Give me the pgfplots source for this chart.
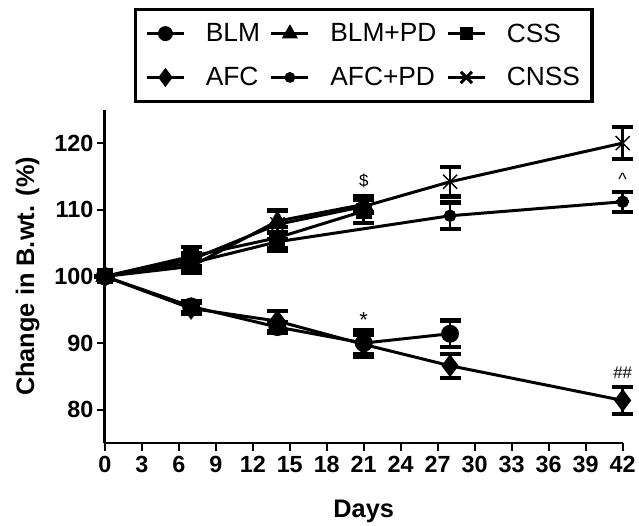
\documentclass[border=0pt]{standalone}
\usepackage{pgfplots}
\pgfplotsset{compat=1.18}
\usepackage{fontspec}
\setmainfont{Liberation Sans}

% cog-like filled marker for AFC+PD
\pgfdeclareplotmark{cog}{%
  \pgfpathcircle{\pgfpointorigin}{0.8\pgfplotmarksize}\pgfusepathqfillstroke
  \pgfsetlinewidth{2.8pt}%
  \pgfpathmoveto{\pgfpoint{-1.05\pgfplotmarksize}{0pt}}\pgfpathlineto{\pgfpoint{1.05\pgfplotmarksize}{0pt}}%
  \pgfpathmoveto{\pgfpoint{0pt}{-1.05\pgfplotmarksize}}\pgfpathlineto{\pgfpoint{0pt}{1.05\pgfplotmarksize}}%
  \pgfusepathqstroke
}

\begin{document}
\begin{tikzpicture}
\begin{axis}[
    scale only axis,
    width=519bp, height=334bp,
    xmin=0, xmax=42, ymin=75, ymax=125,
    clip=false,
    axis lines=left,
    axis line style={line width=2.6pt, -},
    xtick distance=3,
    ytick={80,90,100,110,120},
    tick style={line width=2.4pt, black},
    tick align=outside,
    major tick length=8bp,
    /pgf/number format/assume math mode=true,
    tick label style={font=\fontsize{23.5}{26}\selectfont\bfseries},
    xticklabel style={yshift=-2bp},
    xlabel={\bfseries Days},
    ylabel={\bfseries Change in B.wt. (\%)},
    label style={font=\fontsize{25.5}{29}\selectfont},
    xlabel style={yshift=-20bp},
    ylabel style={yshift=8bp},
    every axis plot/.append style={black, line width=3pt,
      mark options={solid, fill=black},
      error bars/y dir=both, error bars/y explicit,
      error bars/error bar style={line width=2.6pt},
      error bars/error mark options={rotate=90, mark size=10.5bp, line width=4.2pt}},
    legend image code/.code={%
      \path[draw=none, fill=none] (0bp,0bp) -- (49bp,0bp);
      \draw[mark repeat=2, mark phase=2, #1, mark options={scale=0.8}]
        plot coordinates {(0bp,0bp) (18.5bp,0bp) (37bp,0bp)};},
    legend style={at={(0.5,1.305)}, anchor=north, draw=black,
      line width=3.2pt, font=\fontsize{26.5}{30}\selectfont,
      inner xsep=10bp, inner ysep=12bp, column sep=8bp, row sep=20bp},
    legend columns=3,
    legend cell align=left,
]
\addplot[mark=*, mark size=7.5pt] table[x=d, y=v, y error=e] {
d v e
0 100 0
7 95.5 0.8
14 92.4 0.8
21 90.0 2.0
28 91.4 2.0
};
\addlegendentry{BLM}
\addplot[mark=triangle*, mark size=8pt] table[x=d, y=v, y error=e] {
d v e
0 100 0
7 101.5 1.0
14 108.3 1.6
21 110.8 1.2
};
\addlegendentry{BLM+PD}
\addplot[mark=square*, mark size=6.5pt] table[x=d, y=v, y error=e] {
d v e
0 100 0
7 103.0 1.4
14 105.8 1.6
21 109.8 1.8
};
\addlegendentry{CSS}
\addplot[mark=diamond*, mark size=9pt] table[x=d, y=v, y error=e] {
d v e
0 100 0
7 95.2 0.8
14 93.3 1.5
21 89.8 1.5
28 86.6 1.8
42 81.4 2.0
};
\addlegendentry{AFC}
\addplot[mark=cog, mark size=6pt] table[x=d, y=v, y error=e] {
d v e
0 100 0
7 102.0 1.0
14 105.2 1.4
28 109.1 2.0
42 111.2 1.5
};
\addlegendentry{AFC+PD}
\addplot[mark=x, mark size=10pt, mark options={line width=1.4pt}] table[x=d, y=v, y error=e] {
d v e
0 100 0
7 102.5 1.0
14 107.8 2.2
21 110.5 1.0
28 114.2 2.2
42 120.0 2.4
};
\addlegendentry{CNSS}

\node[font=\fontsize{17}{20}\selectfont] at (axis cs:21,114.4) {\$};
\node[font=\fontsize{22}{24}\selectfont] at (axis cs:21,93.4) {*};
\node[font=\fontsize{18}{20}\selectfont] at (axis cs:42,114.6) {\^{}};
\node[font=\fontsize{17}{20}\selectfont] at (axis cs:42,85.5) {\#\#};
\end{axis}
\useasboundingbox (current axis.south west) ++(-105bp,-82bp) rectangle ([xshift=15bp, yshift=110bp]current axis.north east);
\end{tikzpicture}
\end{document}
